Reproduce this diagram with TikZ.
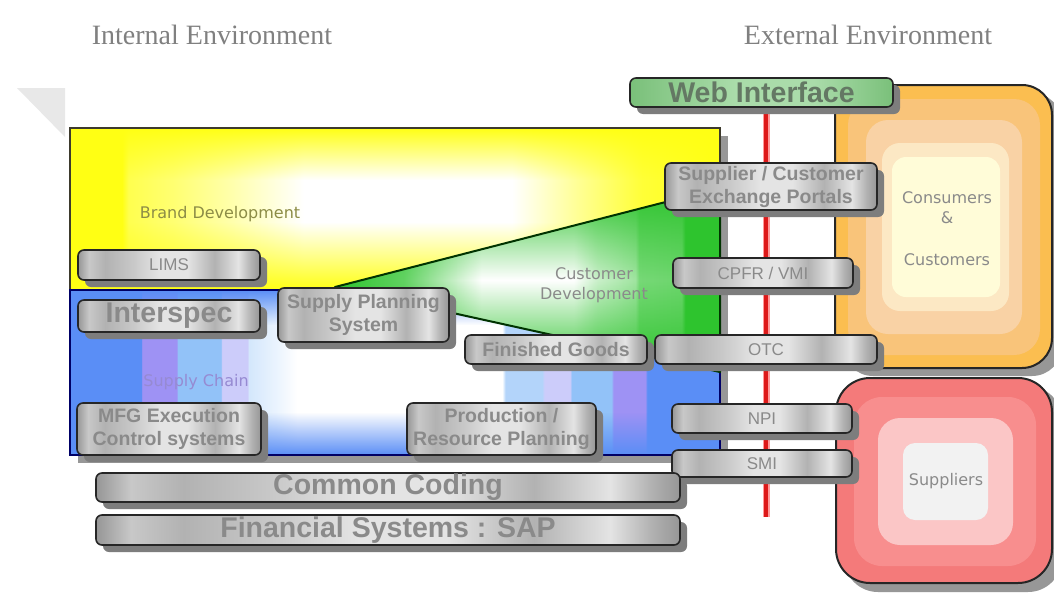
\documentclass[tikz,border=0pt]{standalone}
\usepackage{fontspec}
\setmainfont{Liberation Serif}
\newfontfamily\boxfont{Liberation Sans}
\newfontfamily\labfont{DejaVu Sans}
\usetikzlibrary{shadows,fadings}
\definecolor{ylw}{RGB}{255,255,20}
\definecolor{bl}{RGB}{90,142,246}
\definecolor{pu}{RGB}{158,146,244}
\definecolor{lb}{RGB}{146,194,248}
\definecolor{lav}{RGB}{204,204,250}
\definecolor{grn}{RGB}{46,196,46}
\definecolor{txtgray}{RGB}{138,138,138}
\definecolor{shgray}{RGB}{125,125,125}
\definecolor{webA}{RGB}{122,192,122}
\definecolor{webB}{RGB}{170,220,170}
\definecolor{webtxt}{RGB}{100,120,100}
\definecolor{m1}{RGB}{150,150,150}
\definecolor{m2}{RGB}{200,200,200}
\definecolor{m3}{RGB}{178,178,178}
\definecolor{m4}{RGB}{228,228,228}
\definecolor{or1}{RGB}{251,190,80}
\definecolor{or2}{RGB}{249,196,122}
\definecolor{or3}{RGB}{249,210,165}
\definecolor{or4}{RGB}{252,232,196}
\definecolor{or5}{RGB}{255,252,216}
\definecolor{rd1}{RGB}{244,122,122}
\definecolor{rd2}{RGB}{248,142,142}
\definecolor{rd3}{RGB}{251,198,198}
\definecolor{rd4}{RGB}{242,242,242}
\definecolor{olivetxt}{RGB}{140,140,70}
\definecolor{chaintxt}{RGB}{150,138,210}
\definecolor{titlegray}{RGB}{128,128,128}
\pgfdeclarehorizontalshading{metal}{100bp}{color(0bp)=(m1); color(25bp)=(m1); color(28bp)=(m2); color(32.5bp)=(m3); color(40bp)=(m2); color(47.5bp)=(m4); color(55bp)=(m4); color(62.5bp)=(m3); color(69bp)=(m4); color(72.5bp)=(m3); color(75bp)=(m1); color(100bp)=(m1)}
\pgfdeclarehorizontalshading{webshade}{100bp}{color(0bp)=(webA); color(25bp)=(webA); color(45bp)=(webB); color(60bp)=(webB); color(75bp)=(webA); color(100bp)=(webA)}
\pgfdeclarehorizontalshading{yshade}{100bp}{color(0bp)=(ylw); color(25bp)=(ylw); color(29bp)=(ylw); color(29.5bp)=(ylw!75); color(33bp)=(ylw!60); color(37.5bp)=(ylw!35); color(43bp)=(white); color(59bp)=(white); color(64bp)=(ylw!45); color(69bp)=(ylw!85); color(75bp)=(ylw); color(100bp)=(ylw)}
\pgfdeclarehorizontalshading{bshade}{100bp}{color(0bp)=(bl); color(25bp)=(bl); color(30.5bp)=(bl); color(30.55bp)=(pu); color(33.2bp)=(pu); color(33.3bp)=(lb); color(36.6bp)=(lb); color(36.7bp)=(lav); color(38.65bp)=(lav); color(38.75bp)=(lb!40); color(40.75bp)=(lb!20); color(42.5bp)=(white); color(58.25bp)=(white); color(58.5bp)=(lb!70); color(61.3bp)=(lb!70); color(61.5bp)=(lav); color(63.45bp)=(lav); color(63.6bp)=(lb); color(66.65bp)=(lb); color(66.8bp)=(pu); color(69.25bp)=(pu); color(69.4bp)=(bl); color(75bp)=(bl); color(100bp)=(bl)}
\pgfdeclarehorizontalshading{gshade}{100bp}{color(0bp)=(grn); color(25bp)=(grn); color(34bp)=(grn!75); color(44bp)=(white); color(56bp)=(white); color(59bp)=(grn!25); color(64bp)=(grn!45); color(64.5bp)=(grn!65); color(70bp)=(grn!70); color(70.5bp)=(grn); color(75bp)=(grn); color(100bp)=(grn)}
\tikzfading[name=vmid, top color=transparent!0, bottom color=transparent!0, middle color=transparent!100]
\tikzfading[name=fdtop, top color=transparent!0, bottom color=transparent!100]
\tikzfading[name=fdbot, top color=transparent!100, bottom color=transparent!0]
\tikzset{
  gbox/.style={draw=black!85, line width=1.6pt, rounded corners=6pt, shading=metal,
    inner sep=0pt, align=center, text=txtgray,
    drop shadow={shadow xshift=7pt, shadow yshift=-7pt, fill=shgray, opacity=1}},
  bigtxt/.style={font={\boxfont\bfseries\fontsize{28.5}{30}\selectfont}},
  midtxt/.style={font={\boxfont\bfseries\fontsize{19.5}{23}\selectfont}},
  smalltxt/.style={font={\boxfont\fontsize{17}{19}\selectfont}},
  lab/.style={font={\labfont\fontsize{16}{20}\selectfont}, inner sep=0pt, align=center},
  ttl/.style={font={\fontsize{28}{30}\selectfont}, text=titlegray, inner sep=0pt}
}
\begin{document}
\begin{tikzpicture}[x=1pt,y=-1pt]
\useasboundingbox (0,0) rectangle (1054,594);
\fill[white] (0,0) rectangle (1054,594);
% titles
\node[ttl] (tint) at (212,35) {Internal Environment};
\node[ttl] (text) at (868,35) {External Environment};
% grey corner triangle
\fill[black!9] (17,88) -- (65,88) -- (65,137) -- cycle;
% big box shadow
\fill[shgray!80] (78,136) rectangle (728,463);
% yellow box
\shade[shading=yshade] (70,128) rectangle (720,290);
\fill[ylw, path fading=fdtop] (70,128) rectangle (720,180);
\fill[ylw, path fading=fdbot] (70,222) rectangle (720,290);
\draw[black!75!olive, line width=2.5pt] (70,128) rectangle (720,290);
% blue box
\shade[shading=bshade] (70,290) rectangle (720,455);
\fill[bl, path fading=fdtop] (70,290) rectangle (720,325);
\fill[bl, path fading=fdbot] (70,412) rectangle (720,455);
\draw[black!60!blue, line width=2pt] (70,290) rectangle (720,455);
% green triangle
\coordinate (gapex) at (335,287);
\coordinate (gtop) at (720,188);
\coordinate (gbot) at (720,372);
\shade[shading=gshade] (gapex) -- (gtop) -- (gbot) -- cycle;
\fill[grn, path fading=vmid] (gapex) -- (gtop) -- (gbot) -- cycle;
\draw[black!80!green, line width=2pt, line join=round] (gapex) -- (gtop) -- (gbot) -- cycle;
% orange box
\fill[shgray!80, rounded corners=30pt] (843,93) rectangle (1062,376);
\draw[black!85, line width=2pt, fill=or1, rounded corners=30pt] (835,85) rectangle (1052,368);
\fill[or2, rounded corners=26pt] (848,99) rectangle (1040,355);
\fill[or3, rounded corners=22pt] (866,120) rectangle (1022,334);
\fill[or4, rounded corners=18pt] (882,143) rectangle (1009,311);
\fill[or5, rounded corners=14pt] (892,157) rectangle (1000,297);
% suppliers box
\fill[shgray!80, rounded corners=34pt] (844,386) rectangle (1062,592);
\draw[black!85, line width=2pt, fill=rd1, rounded corners=34pt] (836,378) rectangle (1052,583);
\fill[rd2, rounded corners=28pt] (854,397) rectangle (1036,566);
\fill[rd3, rounded corners=22pt] (878,418) rectangle (1013,545);
\fill[rd4, rounded corners=12pt] (903,443) rectangle (988,520);
% red boundary line
\coordinate (rtop) at (766,107);
\coordinate (rbot) at (766,517);
\draw[red!40, line width=7pt] (rtop) -- (rbot);
\draw[red!85!black!90, line width=4pt] (rtop) -- (rbot);
% labels
\node[lab, text=olivetxt] (brand) at (220,214) {Brand Development};
\node[lab, text=chaintxt] (chain) at (196,382) {Supply Chain};
\node[lab, text=txtgray] (custdev) at (594,285) {Customer\\Development};
\node[lab, text=txtgray] (cons) at (947,198) {Consumers};
\node[lab, text=txtgray] (amp) at (947,218) {\&};
\node[lab, text=txtgray] (cust) at (947,260) {Customers};
\node[lab, text=txtgray] (supp) at (946,481) {Suppliers};
% grey system boxes
\node[gbox, shading=webshade, text=webtxt, bigtxt, minimum width=263pt, minimum height=29pt] (web) at (761.5,92.5) {Web Interface};
\node[gbox, midtxt, minimum width=212pt, minimum height=47pt] (portal) at (771,186.5) {Supplier / Customer\\Exchange Portals};
\node[gbox, smalltxt, minimum width=180pt, minimum height=30pt] (cpfr) at (763,273) {CPFR / VMI};
\node[gbox, smalltxt, minimum width=222pt, minimum height=29pt] (otc) at (766,349.5) {OTC};
\node[gbox, midtxt, minimum width=182pt, minimum height=29pt] (fg) at (556,349.5) {Finished Goods};
\node[gbox, smalltxt, minimum width=182pt, minimum height=30pt] (lims) at (169,265) {LIMS};
\node[gbox, bigtxt, minimum width=182pt, minimum height=32pt] (inter) at (169,316) {Interspec};
\node[gbox, midtxt, minimum width=171pt, minimum height=54pt] (sps) at (363.5,315) {Supply Planning\\System};
\node[gbox, midtxt, minimum width=184pt, minimum height=52pt] (mfg) at (169,429) {MFG Execution\\Control systems};
\node[gbox, midtxt, minimum width=189pt, minimum height=52pt] (prp) at (501.5,429) {Production /\\Resource Planning};
\node[gbox, smalltxt, minimum width=180pt, minimum height=29pt] (npi) at (762,418.5) {NPI};
\node[gbox, smalltxt, minimum width=180pt, minimum height=27pt] (smi) at (762,463.5) {SMI};
\node[gbox, bigtxt, minimum width=584pt, minimum height=29pt] (cc) at (388,487.5) {Common Coding};
\node[gbox, bigtxt, minimum width=584pt, minimum height=30pt] (fin) at (388,530) {Financial Systems : SAP};
\end{tikzpicture}
\end{document}
